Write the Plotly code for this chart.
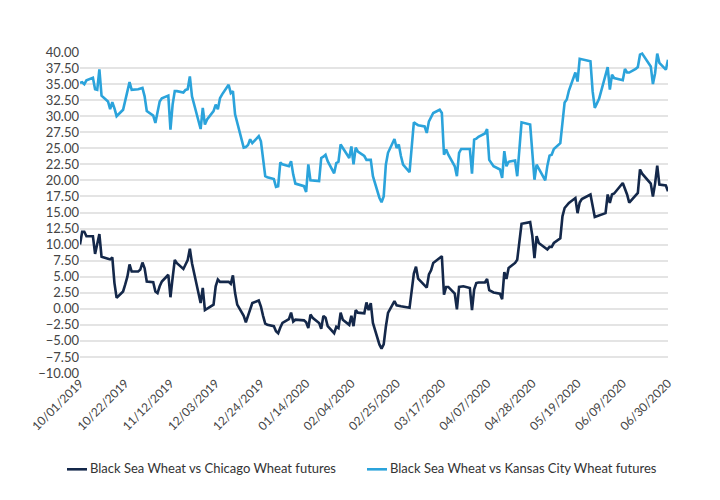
import pandas as pd
import plotly.graph_objects as go

# trading-day index (business days from 10/01/2019) and values
chi_day = [0, 1, 2, 3, 4, 5, 7, 8, 9, 10, 11, 12, 13, 14, 15, 16, 17, 18, 19, 20,
           21, 22, 23, 24, 25, 26, 27, 28, 29, 30, 31, 32, 33, 34, 35, 36, 37, 38, 40, 41,
           42, 43, 44, 45, 46, 47, 48, 49, 50, 51, 52, 53, 54, 55, 56, 57, 58, 59, 60, 61,
           62, 63, 64, 65, 66, 67, 68, 69, 70, 71, 72, 74, 75, 76, 77, 78, 79, 80, 81, 82,
           83, 84, 85, 86, 87, 88, 89, 90, 91, 92, 93, 94, 95, 96, 97, 98, 99, 100, 101, 102,
           103, 104, 105, 107, 109, 111, 112, 113, 115, 116, 117, 118, 120, 121, 122, 123, 124, 125, 126, 128,
           129, 130, 131, 132, 133, 134, 135, 136, 138, 139, 140, 141, 142, 143, 144, 145, 147, 149, 150, 151,
           152, 153, 155, 156, 157, 158, 159, 160, 161, 163, 164, 165, 166, 167, 169, 171, 173, 174, 175, 176,
           177, 178, 180, 182, 183, 184, 185, 186, 187, 189, 190, 191, 192, 193, 194, 195]
chi_val = [10.0, 12.0, 12.0, 11.3, 11.3, 8.55, 11.65, 8.1, 7.8, 7.7, 8.0, 4.0, 1.7, 2.7, 3.8, 5.0, 6.9, 5.8, 5.8, 6.1,
           7.2, 6.3, 4.25, 4.15, 2.7, 2.45, 3.5, 4.25, 5.3, 1.8, 4.8, 7.6, 7.1, 6.2, 6.9, 7.6, 9.35, 7.1, 0.9, 3.25,
           -0.2, 0.0, 0.65, 3.5, 4.55, 4.2, 4.2, 4.2, 3.9, 5.2, 2.45, 0.65, -1.1, -2.1, -1.1, -0.1, 0.9, 1.3, 0.35, -1.1,
           -2.3, -2.5, -2.7, -3.5, -3.8, -2.9, -2.2, -1.6, -0.6, -2.0, -1.7, -1.8, -2.1, -3.0, -0.9, -1.4, -2.2, -3.1, -1.1, -1.4,
           -2.7, -3.8, -2.8, -3.0, -0.6, -1.7, -2.5, -1.1, -2.7, -0.2, -0.6, -0.7, 1.0, -0.2, 0.9, -2.2, -5.55, -6.2, -5.55, -2.8,
           -0.65, 1.2, 0.55, 0.4, 0.15, 5.5, 6.55, 4.7, 3.3, 5.35, 6.0, 7.15, 8.2, 2.2, 3.4, 3.4, 2.35, -0.1, 3.4, 3.5,
           3.25, -0.2, 3.0, 4.0, 4.1, 4.1, 4.65, 2.9, 2.55, 2.35, 1.5, 5.7, 4.65, 6.35, 7.15, 7.65, 13.25, 13.5, 11.4, 7.9,
           11.3, 10.25, 9.25, 9.65, 9.65, 10.25, 11.0, 14.4, 15.7, 16.5, 17.25, 14.9, 16.55, 17.1, 17.8, 14.3, 14.5, 14.9, 17.8, 16.5,
           17.8, 17.95, 19.6, 17.8, 16.55, 17.8, 18.05, 21.7, 21.05, 19.5, 17.5, 19.5, 22.3, 19.35, 19.2, 18.3]

kc_day = [0, 1, 2, 3, 4, 5, 6, 7, 8, 9, 10, 11, 12, 13, 14, 15, 16, 17, 18, 19,
          21, 22, 23, 24, 25, 26, 27, 28, 29, 30, 31, 32, 33, 34, 35, 36, 37, 38, 40, 41,
          42, 43, 44, 45, 46, 47, 48, 49, 50, 51, 52, 54, 55, 56, 57, 58, 59, 60, 62, 63,
          64, 65, 66, 67, 68, 69, 70, 71, 72, 74, 75, 76, 77, 79, 80, 81, 82, 83, 84, 85,
          86, 87, 88, 89, 90, 91, 92, 93, 94, 95, 97, 98, 99, 100, 101, 102, 103, 104, 105, 106,
          107, 108, 109, 110, 111, 112, 113, 114, 115, 116, 117, 118, 119, 120, 121, 122, 123, 124, 125, 126,
          127, 129, 130, 131, 132, 133, 134, 135, 136, 138, 139, 140, 141, 142, 143, 144, 145, 146, 147, 149,
          150, 151, 152, 154, 155, 156, 157, 158, 159, 160, 161, 162, 163, 164, 165, 166, 169, 170, 171, 172,
          173, 175, 176, 177, 178, 180, 181, 182, 183, 184, 185, 186, 187, 189, 190, 191, 192, 193, 194, 195]
kc_val = [35.2, 35.3, 35.0, 35.6, 36.0, 34.2, 34.1, 37.3, 33.2, 32.3, 31.1, 32.2, 31.2, 30.0, 31.0, 32.6, 33.7, 35.3, 34.1, 34.2,
          34.4, 33.1, 30.8, 30.1, 28.95, 30.8, 32.3, 32.8, 33.2, 27.9, 31.8, 33.9, 33.9, 33.7, 34.1, 34.2, 36.2, 33.1, 28.0, 31.3,
          28.7, 29.5, 30.8, 31.8, 31.1, 32.8, 33.4, 34.9, 33.6, 33.9, 30.3, 25.1, 25.2, 25.5, 26.4, 25.8, 26.9, 26.1, 20.65, 20.5,
          20.2, 19.0, 19.1, 22.8, 22.5, 22.2, 23.0, 20.9, 19.5, 19.1, 18.2, 22.5, 20.0, 19.9, 23.5, 23.7, 24.0, 23.0, 21.1, 22.7,
          22.9, 25.6, 25.1, 23.5, 25.3, 22.5, 25.1, 24.5, 23.8, 23.2, 23.2, 20.65, 17.3, 16.6, 17.5, 22.45, 24.3, 26.45, 25.05, 25.6,
          23.8, 22.45, 21.3, 25.8, 29.05, 28.8, 28.6, 28.4, 27.4, 29.2, 29.9, 30.5, 31.0, 30.5, 24.0, 24.8, 24.0, 22.2, 20.65, 24.3,
          24.9, 24.9, 21.05, 26.35, 26.5, 26.8, 27.3, 28.0, 23.2, 22.2, 21.7, 20.4, 24.55, 22.2, 22.9, 23.1, 20.65, 25.05, 29.05, 28.7,
          25.0, 20.1, 22.45, 20.0, 22.3, 23.85, 24.0, 24.9, 25.8, 28.95, 32.15, 32.6, 34.0, 36.8, 35.4, 38.95, 38.55, 33.9, 31.3, 32.0,
          32.7, 37.65, 34.15, 36.45, 35.95, 35.6, 37.35, 36.8, 36.8, 37.35, 37.65, 39.6, 39.75, 37.75, 35.0, 36.7, 39.75, 38.3, 37.25, 38.8]

start_date = "2019-10-01"
n_days = 196
tick_every = 15  # trading days between labelled ticks

chi_name = "Black Sea Wheat vs Chicago Wheat futures"
kc_name = "Black Sea Wheat vs Kansas City Wheat futures"
chi_color = "#14284a"
kc_color = "#2ba3db"

days = pd.bdate_range(start_date, periods=n_days)
chi_x = days[chi_day]
kc_x = days[kc_day]
tick_dates = days[::tick_every]

fig = go.Figure()
fig.add_trace(go.Scatter(x=chi_x, y=chi_val, mode="lines", name=chi_name,
                         line=dict(color=chi_color, width=2.6)))
fig.add_trace(go.Scatter(x=kc_x, y=kc_val, mode="lines", name=kc_name,
                         line=dict(color=kc_color, width=2.6)))

# legend drawn below the plot: short line swatch + label for each series
legend_items = [(chi_name, chi_color, -0.0221), (kc_name, kc_color, 0.4881)]
for name, color, x0 in legend_items:
    fig.add_shape(type="line", xref="paper", yref="paper",
                  x0=x0, x1=x0 + 0.034, y0=-0.300, y1=-0.300,
                  line=dict(color=color, width=2.6))
    fig.add_annotation(xref="paper", yref="paper", x=x0 + 0.036, y=-0.295,
                       text=name, showarrow=False, xanchor="left", yanchor="middle",
                       font=dict(size=13, color="#333333"))

font_family = "Lato, 'Noto Sans', sans-serif"
fig.update_layout(
    width=720, height=500,
    margin=dict(l=72, r=60, t=44, b=135),
    paper_bgcolor="white", plot_bgcolor="white",
    font=dict(family=font_family, size=12, color="#444444"),
    showlegend=False,
    xaxis=dict(type="date", range=[days[0], days[-1]], tickvals=list(tick_dates),
               ticktext=[d.strftime("%m/%d/%Y") for d in tick_dates],
               tickangle=-45, showgrid=False, showline=False, zeroline=False,
               ticks="", tickfont=dict(size=12, color="#444444")),
    yaxis=dict(range=[-10, 40], dtick=2.5, tick0=-10, tickformat=".2f",
               showgrid=True, gridcolor="#e4e4e4", gridwidth=1.5,
               zeroline=False, showline=False, ticks="",
               tickfont=dict(size=13, color="#444444")),
)

fig.write_html("out.html")
